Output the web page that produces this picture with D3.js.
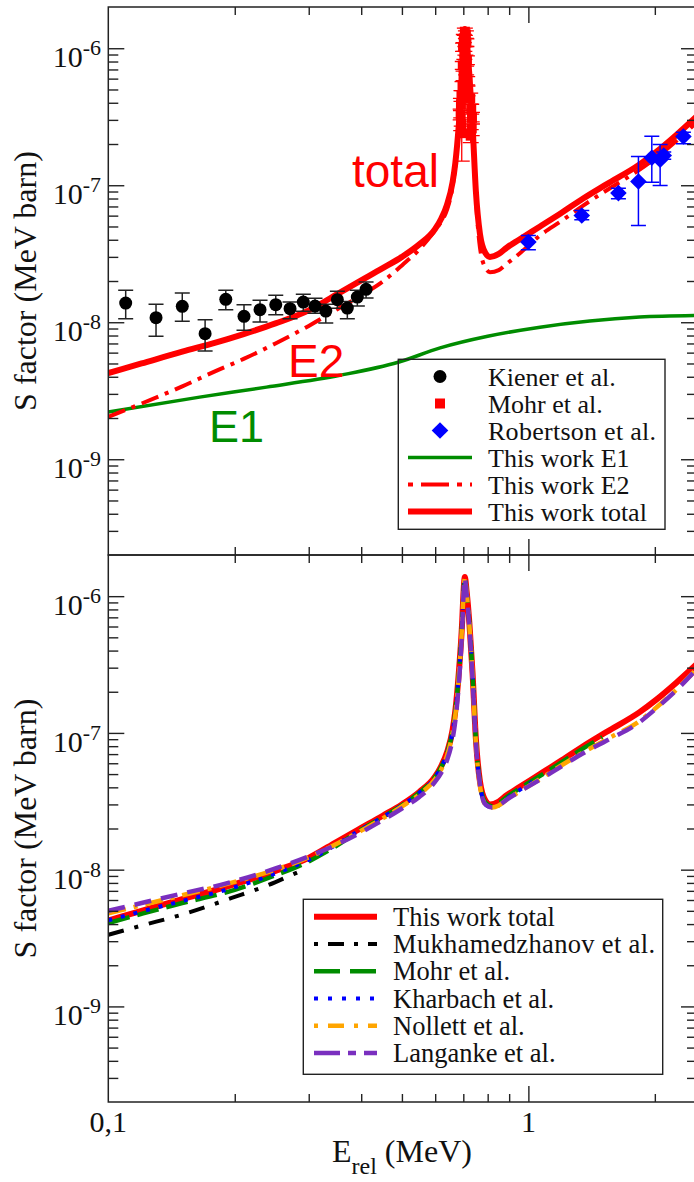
<!DOCTYPE html>
<html><head><meta charset="utf-8">
<script src="https://cdn.jsdelivr.net/npm/d3@7"></script>
<style>body{margin:0;background:#fff}svg{display:block}</style>
</head><body>
<svg id="c" width="694" height="1182"></svg>
<script>
// ---------- axes ----------
const xDomain = [0.1, 2.52];
const yDomain = [2e-10, 2e-6];
const xMajor = [1];
const xMinor = [0.2,0.3,0.4,0.5,0.6,0.7,0.8,0.9,2];
const xTickLabels = ["0,1", "1"];
const xTickLabelValues = [0.1, 1];
const yExps = [-6, -7, -8, -9];

// ---------- this work (top panel) ----------
const totalE = [0.10,0.12,0.15,0.18,0.21,0.25,0.30,0.35,0.40,0.45,0.50,0.55,0.60,0.62,0.64,0.66,0.67,0.683,0.6955,0.70,0.706,0.7125,0.7236,0.7363,0.75,0.767,0.79,0.81,0.85,0.888,0.95,1.066,1.2,1.35,1.537,1.84,2.02,2.25,2.52];
const totalS = [4.25e-9,5.0e-9,6.1e-9,7.1e-9,8.2e-9,9.8e-9,1.22e-8,1.6e-8,2.02e-8,2.48e-8,3.0e-8,3.7e-8,4.8e-8,5.7e-8,7.2e-8,1.05e-7,1.45e-7,2.76e-7,6.4e-7,1.0e-6,1.38e-6,1.1e-6,6.4e-7,2.76e-7,9.0e-8,4.4e-8,3.2e-8,3.0e-8,3.15e-8,3.5e-8,4.0e-8,5.0e-8,6.3e-8,8.0e-8,1.02e-7,1.42e-7,1.76e-7,2.33e-7,3.2e-7];
const e2E = [0.10,0.12,0.15,0.18,0.21,0.25,0.30,0.35,0.40,0.45,0.50,0.55,0.60,0.62,0.64,0.66,0.67,0.683,0.6955,0.70,0.706,0.7125,0.7236,0.7363,0.75,0.767,0.79,0.81,0.85,0.888,0.95,1.066,1.2,1.35,1.537,1.84,2.02,2.25,2.52];
const e2S = [2.04e-9,2.55e-9,3.4e-9,4.4e-9,5.4e-9,7.0e-9,9.4e-9,1.24e-8,1.57e-8,1.98e-8,2.6e-8,3.4e-8,4.7e-8,5.4e-8,6.6e-8,9.8e-8,1.38e-7,2.69e-7,6.3e-7,9.9e-7,1.37e-6,1.09e-6,6.3e-7,2.68e-7,8.0e-8,3.5e-8,2.5e-8,2.32e-8,2.4e-8,2.67e-8,3.15e-8,4.3e-8,5.5e-8,7.1e-8,9.2e-8,1.3e-7,1.6e-7,2.1e-7,2.9e-7];
const e1E = [0.10,0.165,0.238,0.356,0.49,0.6165,0.8,1.066,1.4,1.84,2.52];
const e1S = [2.21e-9,2.84e-9,3.36e-9,4.1e-9,5.1e-9,6.5e-9,7.9e-9,9.2e-9,1.02e-8,1.09e-8,1.12e-8];

// ---------- data (top panel) ----------
const kienerE  = [0.110,0.1299,0.150,0.170,0.1904,0.2104,0.2297,0.2504,0.2708,0.2912,0.3105,0.3294,0.3510,0.3707,0.3916,0.4108];
const kienerS  = [1.38e-8,1.08e-8,1.306e-8,8.25e-9,1.469e-8,1.104e-8,1.236e-8,1.344e-8,1.257e-8,1.404e-8,1.313e-8,1.207e-8,1.462e-8,1.269e-8,1.527e-8,1.738e-8];
const kienerHi = [1.71e-8,1.351e-8,1.633e-8,1.044e-8,1.71e-8,1.344e-8,1.445e-8,1.571e-8,1.404e-8,1.598e-8,1.494e-8,1.351e-8,1.68e-8,1.42e-8,1.71e-8,1.964e-8];
const kienerLo = [1.06e-8,7.89e-9,1.015e-8,6.17e-9,1.236e-8,8.73e-9,1.003e-8,1.136e-8,1.062e-8,1.201e-8,1.161e-8,9.87e-9,1.263e-8,1.062e-8,1.313e-8,1.501e-8];

const mohrE  = [0.706,0.710,0.702,0.712,0.699,0.708,0.704,0.714,0.698,0.711,0.701,0.715,0.697,0.716,0.693,0.727,0.691,0.731,0.690,0.734,0.692,0.733,0.694,0.729];
const mohrS  = [1.32e-6,1.26e-6,1.18e-6,1.10e-6,1.02e-6,9.6e-7,8.9e-7,8.2e-7,7.5e-7,6.9e-7,6.3e-7,5.8e-7,5.3e-7,4.9e-7,4.5e-7,4.3e-7,3.9e-7,3.6e-7,3.3e-7,3.1e-7,2.8e-7,2.6e-7,2.4e-7,2.3e-7];
const mohrLo = [1.24e-6,1.18e-6,1.10e-6,1.03e-6,9.5e-7,8.9e-7,8.3e-7,7.6e-7,7.0e-7,6.4e-7,5.8e-7,5.4e-7,4.9e-7,4.5e-7,4.1e-7,3.9e-7,3.5e-7,3.3e-7,3.0e-7,2.8e-7,2.5e-7,2.3e-7,1.5e-7,2.05e-7];
const mohrHi = [1.40e-6,1.34e-6,1.26e-6,1.17e-6,1.09e-6,1.03e-6,9.5e-7,8.8e-7,8.0e-7,7.4e-7,6.8e-7,6.2e-7,5.7e-7,5.3e-7,4.9e-7,4.7e-7,4.3e-7,3.9e-7,3.6e-7,3.4e-7,3.1e-7,2.9e-7,2.7e-7,2.55e-7];

const robE  = [1.0,1.340,1.638,1.828,1.967,2.059,2.10,2.339];
const robS  = [3.85e-8,6.02e-8,8.76e-8,1.066e-7,1.587e-7,1.535e-7,1.65e-7,2.27e-7];
const robHi = [4.30e-8,6.55e-8,9.52e-8,1.62e-7,2.28e-7,1.984e-7,1.75e-7,2.44e-7];
const robLo = [3.38e-8,5.6e-8,7.97e-8,5.09e-8,1.053e-7,9.97e-8,1.55e-7,2.01e-7];

// ---------- models (bottom panel) ----------
const mukhE = [0.10,0.12,0.15,0.1967,0.24,0.2833,0.29];
const mukhS = [3.34e-9,3.9e-9,4.7e-9,6.21e-9,7.7e-9,9.61e-9,9.9e-9];
const mohrModE = [0.10,0.12,0.15,0.19,0.25,0.30,0.35,0.40,0.45,0.50,0.55,0.60,0.62,0.64,0.66,0.67,0.683,0.6955,0.70,0.706,0.7125,0.7236,0.7363,0.75,0.767,0.79,0.82,0.85,0.888,0.95,1.066,1.2,1.35,1.5];
const mohrModS = [4.07e-9,4.75e-9,5.7e-9,6.8e-9,9.1e-9,1.15e-8,1.5e-8,1.96e-8,2.42e-8,2.95e-8,3.65e-8,4.75e-8,5.6e-8,7.1e-8,1.03e-7,1.42e-7,2.7e-7,6.3e-7,9.9e-7,1.37e-6,1.09e-6,6.3e-7,2.7e-7,8.8e-8,4.3e-8,3.1e-8,2.9e-8,3.05e-8,3.4e-8,3.9e-8,4.85e-8,6.1e-8,7.7e-8,9.3e-8];
const kharE = [0.10,0.12,0.15,0.19,0.25,0.30,0.35,0.40,0.45,0.50,0.55,0.60,0.62,0.64,0.66,0.67,0.683,0.6955,0.70,0.706,0.7125,0.7236,0.7363,0.75,0.767,0.79,0.82,0.85,0.888,0.95,1.05];
const kharS = [4.26e-9,4.95e-9,5.9e-9,7.1e-9,9.4e-9,1.18e-8,1.53e-8,1.97e-8,2.42e-8,2.95e-8,3.65e-8,4.75e-8,5.6e-8,7.0e-8,1.02e-7,1.4e-7,2.65e-7,6.2e-7,9.8e-7,1.36e-6,1.08e-6,6.2e-7,2.65e-7,8.6e-8,4.2e-8,3.0e-8,2.85e-8,2.95e-8,3.3e-8,3.8e-8,4.6e-8];
const nolE = [0.10,0.12,0.15,0.19,0.25,0.30,0.35,0.40,0.45,0.50,0.55,0.60,0.62,0.64,0.66,0.67,0.683,0.6955,0.70,0.706,0.7125,0.7236,0.7363,0.75,0.767,0.79,0.82,0.85,0.888,0.95,1.066,1.2,1.35,1.537,1.84,2.02,2.25,2.52];
const nolS = [4.8e-9,5.5e-9,6.5e-9,7.8e-9,1.0e-8,1.23e-8,1.55e-8,1.93e-8,2.37e-8,2.9e-8,3.55e-8,4.6e-8,5.4e-8,6.8e-8,1.0e-7,1.35e-7,2.6e-7,6.2e-7,9.8e-7,1.36e-6,1.08e-6,6.2e-7,2.6e-7,8.5e-8,4.1e-8,3.0e-8,2.85e-8,2.95e-8,3.25e-8,3.7e-8,4.6e-8,5.8e-8,7.2e-8,9.0e-8,1.22e-7,1.54e-7,2.07e-7,2.95e-7];
const langE = [0.10,0.12,0.15,0.19,0.25,0.30,0.35,0.40,0.45,0.50,0.55,0.60,0.62,0.64,0.66,0.67,0.683,0.6955,0.70,0.705,0.712,0.7236,0.7363,0.75,0.767,0.79,0.82,0.85,0.888,0.95,1.066,1.2,1.35,1.537,1.84,2.02,2.25,2.52];
const langS = [5.0e-9,5.7e-9,6.7e-9,7.9e-9,1.02e-8,1.25e-8,1.53e-8,1.88e-8,2.3e-8,2.8e-8,3.4e-8,4.4e-8,5.1e-8,6.3e-8,9.0e-8,1.22e-7,2.3e-7,5.8e-7,9.5e-7,1.36e-6,1.08e-6,6.0e-7,2.5e-7,8.5e-8,4.2e-8,3.0e-8,2.85e-8,2.95e-8,3.25e-8,3.7e-8,4.55e-8,5.7e-8,7.1e-8,8.8e-8,1.2e-7,1.52e-7,2.05e-7,2.95e-7];

const topLegend = ["Kiener et al.","Mohr et al.","Robertson et al.","This work E1","This work E2","This work total"];
const botLegend = ["This work total","Mukhamedzhanov et al.","Mohr et al.","Kharbach et al.","Nollett et al.","Langanke et al."];

// ---------- drawing ----------
const svg = d3.select("#c");
const X0 = 108.3, X1 = 697;
const x = d3.scaleLog().domain(xDomain).range([X0, X1]);
const yTop = d3.scaleLog().domain(yDomain).range([555, 7]);
const yBot = d3.scaleLog().domain(yDomain).range([1102, 555]);
const serif = "'Liberation Serif','Times New Roman',Times,serif";
const sans = "'Liberation Sans',Arial,sans-serif";
const RED = "#ff0000", GREEN = "#008c00", BLUE = "#0000ff", ORANGE = "#ffa500", PURPLE = "#7a2fbf";

const defs = svg.append("defs");
defs.append("clipPath").attr("id","clipTop").append("rect").attr("x",X0).attr("y",7).attr("width",X1-X0).attr("height",548);
defs.append("clipPath").attr("id","clipBot").append("rect").attr("x",X0).attr("y",555).attr("width",X1-X0).attr("height",547);

function zip(a,b){return a.map((v,i)=>[v,b[i]]);}
function yMinors(){const r=[];for(let e=-10;e<=-6;e++)for(let m=2;m<=9;m++){const v=m*Math.pow(10,e);if(v>yDomain[0]*1.01&&v<yDomain[1]*0.99)r.push(v);}return r;}
const yMaj = yExps.map(e=>Math.pow(10,e));

function drawAxes(y, top, bottom){
  const g = svg.append("g");
  const ax = (gen, tr) => { const a = g.append("g").attr("transform",tr).call(gen); a.select(".domain").remove(); a.selectAll("line").attr("stroke","#222").attr("stroke-width",1.4); a.selectAll("text").remove(); };
  ax(d3.axisRight(y).tickValues(yMaj).tickSize(16), `translate(${X0},0)`);
  ax(d3.axisRight(y).tickValues(yMinors()).tickSize(10), `translate(${X0},0)`);
  ax(d3.axisLeft(y).tickValues(yMaj).tickSize(16), `translate(${X1},0)`);
  ax(d3.axisLeft(y).tickValues(yMinors()).tickSize(10), `translate(${X1},0)`);
  ax(d3.axisBottom(x).tickValues(xMajor).tickSize(16), `translate(0,${top})`);
  ax(d3.axisBottom(x).tickValues(xMinor).tickSize(8), `translate(0,${top})`);
  ax(d3.axisTop(x).tickValues(xMajor).tickSize(16), `translate(0,${bottom})`);
  ax(d3.axisTop(x).tickValues(xMinor).tickSize(8), `translate(0,${bottom})`);
  svg.append("rect").attr("x",X0).attr("y",top).attr("width",X1-X0).attr("height",bottom-top)
    .attr("fill","none").attr("stroke","#222").attr("stroke-width",1.5);
  yExps.forEach(e=>{
    const t = svg.append("text").attr("x",101).attr("y",y(Math.pow(10,e))+19)
      .attr("text-anchor","end").attr("font-family",serif).attr("font-size",30).attr("fill","#111");
    t.append("tspan").text("10");
    t.append("tspan").attr("dy",-12).attr("font-size",22).text(String(e));
  });
  svg.append("text").attr("transform",`translate(36,${(top+bottom)/2}) rotate(-90)`)
    .attr("text-anchor","middle").attr("font-family",serif).attr("font-size",32).attr("fill","#111")
    .text("S factor (MeV barn)");
}

const line = (y) => d3.line().x(d=>x(d[0])).y(d=>y(d[1])).curve(d3.curveMonotoneX);

// ===== TOP PANEL =====
const gT = svg.append("g").attr("clip-path","url(#clipTop)");
gT.append("path").datum(zip(e1E,e1S)).attr("d",line(yTop)).attr("fill","none").attr("stroke",GREEN).attr("stroke-width",3.5);
gT.append("path").datum(zip(e2E,e2S)).attr("d",line(yTop)).attr("fill","none").attr("stroke",RED).attr("stroke-width",4).attr("stroke-dasharray","18,7,4,7");
gT.append("path").datum(zip(totalE,totalS)).attr("d",line(yTop)).attr("fill","none").attr("stroke",RED).attr("stroke-width",6);

function errBars(g, E, lo, hi, y, color, cap, w){
  g.selectAll(null).data(E.map((e,i)=>[e,lo[i],hi[i]])).join("path")
    .attr("d",d=>{const xx=x(d[0]),a=y(d[1]),b=y(d[2]);return `M${xx},${a}V${b}M${xx-cap},${a}H${xx+cap}M${xx-cap},${b}H${xx+cap}`;})
    .attr("fill","none").attr("stroke",color).attr("stroke-width",w);
}
errBars(gT, kienerE, kienerLo, kienerHi, yTop, "#222", 7.5, 1.5);
gT.selectAll(null).data(zip(kienerE,kienerS)).join("circle").attr("cx",d=>x(d[0])).attr("cy",d=>yTop(d[1])).attr("r",6.5).attr("fill","#000");
errBars(gT, mohrE, mohrLo, mohrHi, yTop, RED, 8, 1.3);
gT.selectAll(null).data(zip(mohrE,mohrS)).join("rect").attr("x",d=>x(d[0])-5).attr("y",d=>yTop(d[1])-5).attr("width",10).attr("height",10).attr("fill",RED);
errBars(gT, robE, robLo, robHi, yTop, BLUE, 7.5, 1.5);
const diamond = (cx,cy,r)=>`M${cx},${cy-r}L${cx+r},${cy}L${cx},${cy+r}L${cx-r},${cy}Z`;
gT.selectAll(null).data(zip(robE,robS)).join("path").attr("d",d=>diamond(x(d[0]),yTop(d[1]),8.3)).attr("fill",BLUE);

svg.append("text").attr("x",352).attr("y",187).attr("font-family",sans).attr("font-size",46).attr("fill",RED).text("total");
svg.append("text").attr("x",288).attr("y",377).attr("font-family",sans).attr("font-size",46).attr("fill",RED).text("E2");
svg.append("text").attr("x",209).attr("y",442).attr("font-family",sans).attr("font-size",45).attr("fill",GREEN).text("E1");

{
  const bx=398.3, by=359.3, bw=266.7, bh=170;
  svg.append("rect").attr("x",bx).attr("y",by).attr("width",bw).attr("height",bh).attr("fill","none").attr("stroke","#222").attr("stroke-width",1.4);
  const rows=[376.5,403.5,430.5,457.5,484.5,511.5];
  const cx=440, lx0=408, lx1=472;
  svg.append("circle").attr("cx",cx).attr("cy",rows[0]).attr("r",6.5).attr("fill","#000");
  svg.append("rect").attr("x",cx-5).attr("y",rows[1]-5).attr("width",10).attr("height",10).attr("fill",RED);
  svg.append("path").attr("d",diamond(cx,rows[2],8.3)).attr("fill",BLUE);
  svg.append("line").attr("x1",lx0).attr("x2",lx1).attr("y1",rows[3]).attr("y2",rows[3]).attr("stroke",GREEN).attr("stroke-width",3.5);
  svg.append("line").attr("x1",lx0).attr("x2",lx1).attr("y1",rows[4]).attr("y2",rows[4]).attr("stroke",RED).attr("stroke-width",4).attr("stroke-dasharray","5,8,28,8,5,8");
  svg.append("line").attr("x1",lx0).attr("x2",lx1).attr("y1",rows[5]).attr("y2",rows[5]).attr("stroke",RED).attr("stroke-width",6);
  topLegend.forEach((t,i)=>svg.append("text").attr("x",488).attr("y",rows[i]+9).attr("font-family",serif).attr("font-size",26)
    .attr("textLength", i===2 ? 168 : null).attr("fill","#111").text(t));
}

// ===== BOTTOM PANEL =====
const gB = svg.append("g").attr("clip-path","url(#clipBot)");
const bStyles = [
  {E:totalE,S:totalS,c:RED,w:6,d:null},
  {E:mukhE,S:mukhS,c:"#000",w:4,d:"16,11,4,11"},
  {E:mohrModE,S:mohrModS,c:GREEN,w:4.5,d:"22,8"},
  {E:kharE,S:kharS,c:BLUE,w:4,d:"4,9"},
  {E:nolE,S:nolS,c:ORANGE,w:4.5,d:"18,8,4,8"},
  {E:langE,S:langS,c:PURPLE,w:4.5,d:"17,10"}
];
bStyles.forEach(s=>{
  gB.append("path").datum(zip(s.E,s.S)).attr("d",line(yBot)).attr("fill","none").attr("stroke",s.c).attr("stroke-width",s.w)
    .attr("stroke-dasharray",s.d);
});
{
  const bx=303.3, by=899.3, bw=359.4, bh=175;
  svg.append("rect").attr("x",bx).attr("y",by).attr("width",bw).attr("height",bh).attr("fill","none").attr("stroke","#222").attr("stroke-width",1.4);
  const rows=[916.7,944,971.2,998.5,1025.8,1053];
  const legD=[null,"4,10,16,10","26,10","4,10","4,10,16,10","26,8,8,8"];
  bStyles.forEach((s,i)=>{
    svg.append("line").attr("x1",314).attr("x2",377).attr("y1",rows[i]).attr("y2",rows[i]).attr("stroke",s.c).attr("stroke-width",s.w).attr("stroke-dasharray",legD[i]);
    svg.append("text").attr("x",393).attr("y",rows[i]+9).attr("font-family",serif).attr("font-size",26.5)
      .attr("textLength", i===1 ? 262 : null).attr("fill","#111").text(botLegend[i]);
  });
}

drawAxes(yTop, 7, 555);
drawAxes(yBot, 555, 1102);

xTickLabelValues.forEach((v,i)=>svg.append("text").attr("x",x(v)).attr("y",1132).attr("text-anchor","middle")
  .attr("font-family",serif).attr("font-size",30).attr("fill","#111").text(xTickLabels[i]));
{
  const t = svg.append("text").attr("x",332).attr("y",1162).attr("font-family",serif).attr("font-size",32).attr("fill","#111");
  t.append("tspan").text("E");
  t.append("tspan").attr("dy",12).attr("font-size",24).text("rel");
  t.append("tspan").attr("dy",-12).text(" (MeV)");
}
</script>
</body></html>
